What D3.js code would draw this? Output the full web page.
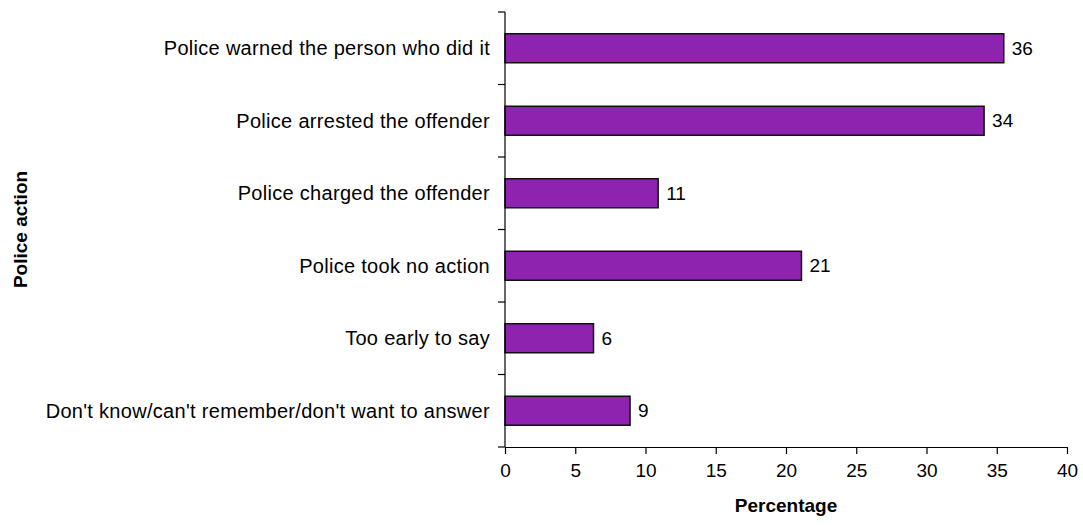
<!DOCTYPE html>
<html>
<head>
<meta charset="utf-8">
<script src="https://cdn.jsdelivr.net/npm/d3@7/dist/d3.min.js"></script>
<style>
  html, body { margin: 0; padding: 0; background: #fff; }
  svg { display: block; font-family: Arial, "Liberation Sans", sans-serif; }
</style>
</head>
<body>
<svg id="chart" width="1083" height="526"></svg>
<script>
// Police action following the report (percentage of respondents)
const categories = [
  "Police warned the person who did it",
  "Police arrested the offender",
  "Police charged the offender",
  "Police took no action",
  "Too early to say",
  "Don't know/can't remember/don't want to answer"
];
const values = [35.5, 34.1, 10.9, 21.1, 6.3, 8.9];
const xTicks = [0, 5, 10, 15, 20, 25, 30, 35, 40];

const svg = d3.select("#chart");
const plotLeft = 505, plotRight = 1067, plotTop = 12, plotBottom = 447;
const fontSize = 19;

const x = d3.scaleLinear().domain([0, 40]).range([plotLeft, plotRight]);
const y = d3.scaleBand().domain(categories).range([plotTop, plotBottom])
  .paddingInner(0.6).paddingOuter(0.3);
const step = y.step();

// bars
svg.append("g").selectAll("rect").data(values).join("rect")
  .attr("x", x(0))
  .attr("y", (d, i) => y(categories[i]))
  .attr("width", d => x(d) - x(0))
  .attr("height", y.bandwidth())
  .attr("fill", "#8e23b0")
  .attr("stroke", "#111")
  .attr("stroke-width", 1.5);

// value labels
svg.append("g").selectAll("text").data(values).join("text")
  .attr("x", d => x(d) + 8)
  .attr("y", (d, i) => y(categories[i]) + y.bandwidth() / 2)
  .attr("dy", "0.35em")
  .attr("font-size", fontSize)
  .attr("fill", "#000")
  .text(d => d3.format(".0f")(d));

// x axis
const xAxis = svg.append("g")
  .attr("transform", `translate(0,${plotBottom})`)
  .call(d3.axisBottom(x).tickValues(xTicks).tickSize(7).tickSizeOuter(0).tickPadding(10));
xAxis.select(".domain").attr("stroke", "#000").attr("stroke-width", 1.2);
xAxis.selectAll(".tick line").attr("stroke", "#000").attr("stroke-width", 1.2);
xAxis.selectAll(".tick text").attr("font-size", fontSize).attr("fill", "#000")
  .attr("font-family", "Arial, 'Liberation Sans', sans-serif");

// y axis: line with ticks at category boundaries
const yAxisG = svg.append("g");
yAxisG.append("line")
  .attr("x1", plotLeft).attr("x2", plotLeft)
  .attr("y1", plotTop).attr("y2", plotBottom)
  .attr("stroke", "#000").attr("stroke-width", 1.2);
const boundaries = d3.range(categories.length + 1).map(i => plotTop + i * step);
yAxisG.selectAll("line.tick").data(boundaries).join("line")
  .attr("class", "tick")
  .attr("x1", plotLeft - 7).attr("x2", plotLeft)
  .attr("y1", d => d).attr("y2", d => d)
  .attr("stroke", "#000").attr("stroke-width", 1.2);

// category labels
svg.append("g").selectAll("text").data(categories).join("text")
  .attr("x", plotLeft - 15)
  .attr("y", d => y(d) + y.bandwidth() / 2)
  .attr("dy", "0.35em")
  .attr("text-anchor", "end")
  .attr("font-size", 20)
  .attr("letter-spacing", "0.3px")
  .attr("fill", "#000")
  .text(d => d);

// axis titles
svg.append("text")
  .attr("x", (plotLeft + plotRight) / 2)
  .attr("y", 512)
  .attr("text-anchor", "middle")
  .attr("font-size", fontSize)
  .attr("font-weight", "bold")
  .text("Percentage");

svg.append("text")
  .attr("transform", `translate(27,${(plotTop + plotBottom) / 2}) rotate(-90)`)
  .attr("text-anchor", "middle")
  .attr("font-size", fontSize)
  .attr("font-weight", "bold")
  .text("Police action");
</script>
</body>
</html>
